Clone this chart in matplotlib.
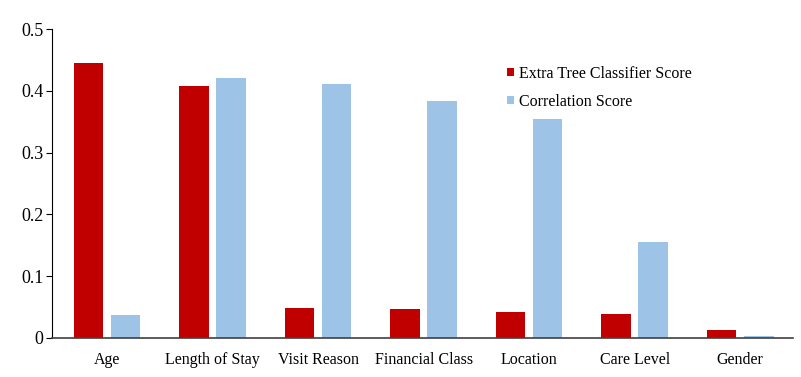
import numpy as np
import matplotlib.pyplot as plt

plt.rcParams['font.family'] = ['Liberation Serif', 'DejaVu Serif']

features = ["Age", "Length of Stay", "Visit Reason", "Financial Class",
            "Location", "Care Level", "Gender"]
extra_tree = [0.445, 0.408, 0.049, 0.046, 0.042, 0.038, 0.013]
correlation = [0.037, 0.420, 0.411, 0.383, 0.354, 0.155, 0.003]

red = "#C00000"
blue = "#9DC3E6"

fig = plt.figure(figsize=(8.01, 3.77), dpi=100)
ax = fig.add_axes([0.065, 0.104, 0.925, 0.819])

x = np.arange(len(features))
w = 0.28
off = 0.176
ax.bar(x - off, extra_tree, w, color=red, label="Extra Tree Classifier Score")
ax.bar(x + off, correlation, w, color=blue, label="Correlation Score")

ax.set_xlim(-0.52, 6.5)
ax.set_ylim(0, 0.5)
ax.set_yticks([0, 0.1, 0.2, 0.3, 0.4, 0.5])
ax.set_yticklabels(["0", "0.1", "0.2", "0.3", "0.4", "0.5"])
ax.set_xticks(x)
ax.set_xticklabels(features)
ax.tick_params(axis='x', length=0, labelsize=11.5, pad=10)
ax.tick_params(axis='y', length=4, labelsize=13, direction='out', pad=2)

ax.spines['top'].set_visible(False)
ax.spines['right'].set_visible(False)
ax.spines['left'].set_color('black')
ax.spines['bottom'].set_color('#404040')
ax.spines['bottom'].set_linewidth(1.2)

leg = ax.legend(loc='upper left', bbox_to_anchor=(0.595, 0.928), frameon=False,
                fontsize=11.5, handlelength=0.45, handleheight=0.45,
                handletextpad=0.3, labelspacing=0.75)

fig.savefig("out.png", dpi=100)
